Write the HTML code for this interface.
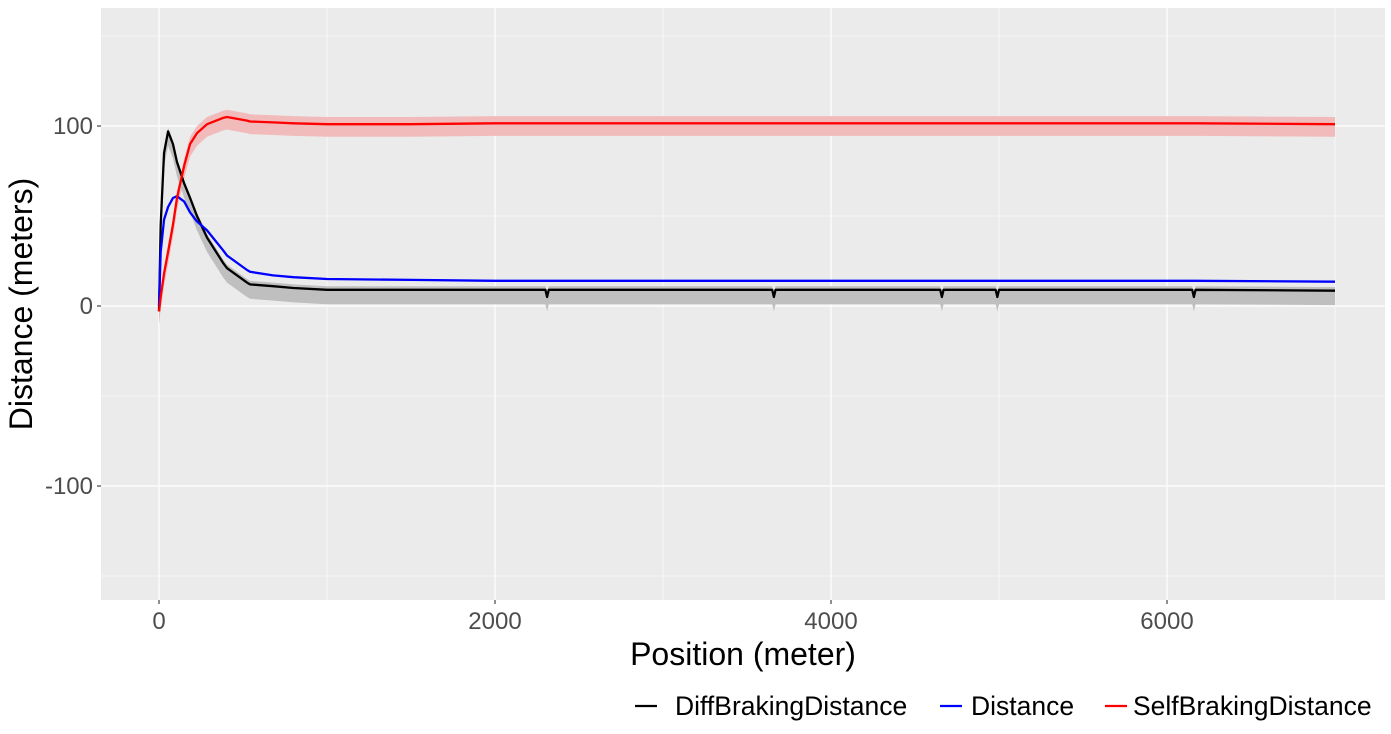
<!DOCTYPE html>
<html><head><meta charset="utf-8"><style>
body{margin:0;background:#fff;}
svg text{font-family:"Liberation Sans",Arial,sans-serif;}
</style></head><body>
<svg id="chart" width="1391" height="729"></svg>
<script>
const positions=[0,10,30,54,83,107,150,185,226,286,381,405,524,542,679,800,1000,1500,2000,2300,2310,2320,3000,3650,3660,3670,4000,4650,4660,4670,4980,4990,5000,6000,6150,6160,6170,7000];
const diffVals=[-3,45,85,97,90,80,68,60,50,38,24,21,13,12,11,10,9,9,9,9,5,9,9,9,5,9,9,9,5,9,9,5,9,9,9,5,9,8.5];
const distVals=[0,30,48,55,60,61,58,52,47,42,31,28,20,19,17,16,15,14.5,14,14,14,14,14,14,14,14,14,14,14,14,14,14,14,14,14,14,14,13.5];
const selfVals=[-3,5,18,30,45,60,78,90,96,101,104.5,105,103,102.5,102,101.5,101,101,101.5,101.5,101.5,101.5,101.5,101.5,101.5,101.5,101.5,101.5,101.5,101.5,101.5,101.5,101.5,101.5,101.5,101.5,101.5,101];
const xTicks=[0,2000,4000,6000];
const yTicks=[-100,0,100];
const ns="http://www.w3.org/2000/svg";
const svg=document.getElementById('chart');
const L=101,R=1385,T=8,B=600;
const X=v=>159+v*0.168;
const Y=v=>306-v*1.8;
function mk(t,a,p){const e=document.createElementNS(ns,t);for(const k in a)e.setAttribute(k,a[k]);(p||svg).appendChild(e);return e;}
const panel=mk('rect',{x:L,y:T,width:R-L,height:B-T,fill:'#ebebeb'});


[-150,-50,50,150].forEach(v=>{const g=mk('line',{x1:L,x2:R,y1:Y(v),y2:Y(v),stroke:'#fff','stroke-width':0.6});});
[1000,3000,5000,7000].forEach(v=>{const g=mk('line',{x1:X(v),x2:X(v),y1:T,y2:B,stroke:'#fff','stroke-width':0.6});});
yTicks.forEach(v=>{const g=mk('line',{x1:L,x2:R,y1:Y(v),y2:Y(v),stroke:'#fff','stroke-width':1.2});
const tk=mk('line',{x1:L-4,x2:L,y1:Y(v),y2:Y(v),stroke:'#333','stroke-width':1.1});
const t=mk('text',{x:L-8,y:Y(v)+8,'text-anchor':'end','font-size':24,fill:'#4d4d4d'});t.textContent=v;});
xTicks.forEach(v=>{const g=mk('line',{x1:X(v),x2:X(v),y1:T,y2:B,stroke:'#fff','stroke-width':1.2});
const tk=mk('line',{x1:X(v),x2:X(v),y1:B,y2:B+4,stroke:'#333','stroke-width':1.1});
const t=mk('text',{x:X(v),y:B+29,'text-anchor':'middle','font-size':24,fill:'#4d4d4d'});t.textContent=v;});
function band(vals,lo,hi,fill,name){let up=positions.map((p,i)=>X(p)+','+Y(vals[i]+hi)).join(' ');let dn=positions.map((p,i)=>X(p)+','+Y(vals[i]-lo)).reverse().join(' ');const e=mk('polygon',{points:up+' '+dn,fill:fill});}
band(selfVals,7,4,'#f2bbbb','self-braking-band');
band(diffVals,8,2,'#bfbfbf','diff-braking-band');
function line(vals,col,name){const e=mk('polyline',{points:positions.map((p,i)=>X(p)+','+Y(vals[i])).join(' '),fill:'none',stroke:col,'stroke-width':2.3,'stroke-linejoin':'round'});}
line(diffVals,'#000','diff-braking-line');
line(distVals,'#0000ff','distance-line');
line(selfVals,'#ff0000','self-braking-line');
const xt=mk('text',{x:743,y:665,'text-anchor':'middle','font-size':32,fill:'#000'});xt.textContent='Position (meter)';
const yt=mk('text',{x:0,y:0,'text-anchor':'middle','font-size':32,fill:'#000',transform:'translate(32,304) rotate(-90)'});yt.textContent='Distance (meters)';
const leg=[['DiffBrakingDistance','#000',635,675],['Distance','#0000ff',940,971],['SelfBrakingDistance','#ff0000',1105,1133]];
leg.forEach(([n,c,x,tx])=>{const g=mk('g',{});
mk('line',{x1:x,x2:x+22,y1:706,y2:706,stroke:c,'stroke-width':2.3},g);
const t=mk('text',{x:tx,y:715,'font-size':26.5,fill:'#000'},g);t.textContent=n;});
</script>
</body></html>
